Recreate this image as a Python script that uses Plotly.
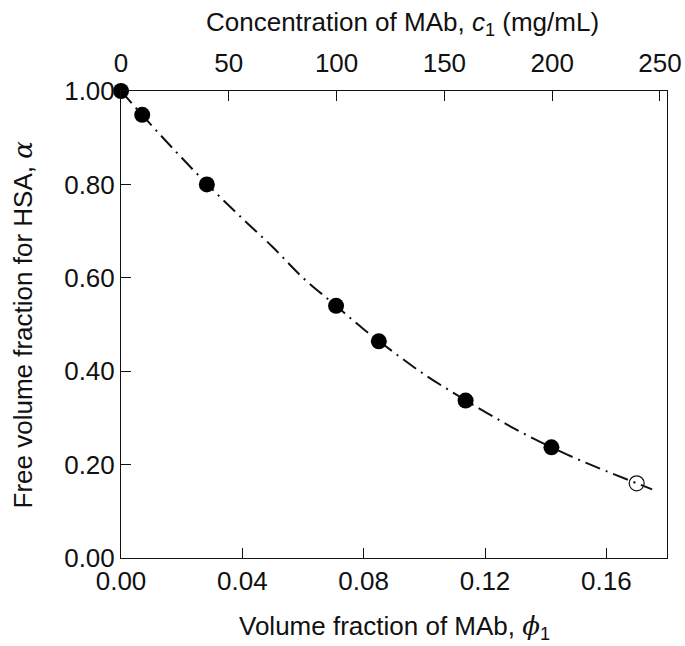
import plotly.graph_objects as go

# Measured points: volume fraction of MAb (phi_1) and free volume fraction for HSA (alpha)
phi_measured = [0.0, 0.0070, 0.0283, 0.0709, 0.0850, 0.1136, 0.1419]
alpha_measured = [1.000, 0.949, 0.800, 0.540, 0.464, 0.337, 0.237]

# Extrapolated point (open circle)
phi_open = [0.1700]
alpha_open = [0.160]

# Dash-dot model curve
curve_phi = [0.0, 0.01, 0.02, 0.03, 0.04, 0.05, 0.06, 0.07, 0.08, 0.09, 0.10,
             0.11, 0.12, 0.13, 0.14, 0.15, 0.16, 0.1751]
curve_alpha = [1.000, 0.927, 0.857, 0.790, 0.727, 0.666, 0.600, 0.545, 0.490,
               0.440, 0.393, 0.352, 0.313, 0.276, 0.243, 0.213, 0.186, 0.147]

# Top axis: concentration of MAb, mg/mL, tied to phi_1
PHI_MAX = 0.18
C_PER_PHI = 1407.0
c_ticks = [0, 50, 100, 150, 200, 250]
phi_ticks = [0.00, 0.04, 0.08, 0.12, 0.16]
alpha_ticks = [0.0, 0.2, 0.4, 0.6, 0.8, 1.0]

INK = "#111111"
FONT = "Liberation Sans, Arial, sans-serif"
GREEK = "font-family:'DejaVu Serif', 'Liberation Serif', serif"
SIZE = 26

fig = go.Figure()

fig.add_trace(go.Scatter(
    x=curve_phi, y=curve_alpha, mode="lines",
    line=dict(color=INK, width=2, dash="16px,6px,2px,6px", shape="spline"),
    hoverinfo="skip", cliponaxis=False,
))
fig.add_trace(go.Scatter(
    x=phi_measured, y=alpha_measured, mode="markers",
    marker=dict(color="black", size=16, line=dict(width=0)),
    cliponaxis=False,
))
fig.add_trace(go.Scatter(
    x=phi_open, y=alpha_open, mode="markers",
    marker=dict(color="rgba(0,0,0,0)", size=15, line=dict(color=INK, width=1.2)),
    cliponaxis=False,
))
# invisible trace so the top concentration axis is drawn
fig.add_trace(go.Scatter(
    x=[0, PHI_MAX * C_PER_PHI], y=[None, None], xaxis="x2", mode="markers",
    marker=dict(opacity=0), hoverinfo="skip",
))

axis_common = dict(
    showline=True, linecolor=INK, linewidth=1, showgrid=False, zeroline=False,
    ticks="inside", ticklen=10, tickwidth=1, tickcolor=INK, automargin=False,
    tickfont=dict(family=FONT, size=SIZE, color=INK),
)

fig.update_layout(
    width=685, height=646,
    margin=dict(l=121, r=18, t=91, b=88),
    paper_bgcolor="white", plot_bgcolor="white",
    showlegend=False,
    font=dict(family=FONT, size=SIZE, color=INK),
    xaxis=dict(axis_common, range=[0, PHI_MAX], tickvals=phi_ticks, tickformat=".2f"),
    xaxis2=dict(
        axis_common, overlaying="x", side="top", anchor="y",
        range=[0, PHI_MAX * C_PER_PHI], tickvals=c_ticks, ticklabelstandoff=8,
    ),
    yaxis=dict(axis_common, range=[0, 1], tickvals=alpha_ticks, tickformat=".2f",
               mirror=True),
)

titles = [
    dict(text="Concentration of MAb, <i>c</i><sub>1</sub> (mg/mL)",
         x=0.5156, y=1.145, textangle=0),
    dict(text=f"Volume fraction of MAb, <span style=\"{GREEK}\"><i>ϕ</i></span><sub>1</sub>",
         x=0.5, y=-0.148, textangle=0),
    dict(text=f"Free volume fraction for HSA, <span style=\"{GREEK}\"><i>α</i></span>",
         x=-0.1795, y=0.5, textangle=-90),
]
for t in titles:
    fig.add_annotation(
        text=t["text"], x=t["x"], y=t["y"], xref="paper", yref="paper",
        xanchor="center", yanchor="middle", showarrow=False, textangle=t["textangle"],
        font=dict(family=FONT, size=SIZE, color=INK),
    )

# the page's default body margin would push the figure off the 685x646 window
fig.write_html(
    "out.html",
    config={"displayModeBar": False},
    post_script="document.body.style.margin='0';document.body.style.overflow='hidden';",
)
